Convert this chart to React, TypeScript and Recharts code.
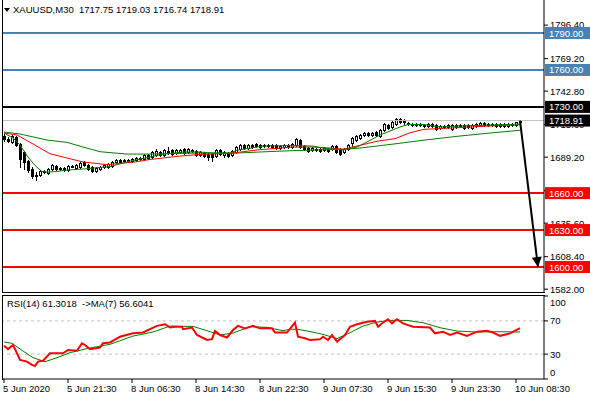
import { ComposedChart, Bar, Line, XAxis, YAxis, ReferenceLine } from 'recharts';

const FONT = '"Liberation Sans", Arial, sans-serif';
const FS = 9.5;

const symbol = 'XAUUSD,M30';

// M30 bars, 5 Jun 13:30 -> 10 Jun 09:00 (bar index 0..129)
const opens = [
  1706.4, 1704.0, 1701.5, 1705.8, 1699.5, 1693.4, 1686.1, 1679.6, 1674.2, 1674.7,
  1677.9, 1676.3, 1679.6, 1682.4, 1679.8, 1680.4, 1678.8, 1682.0, 1680.4, 1681.2,
  1685.3, 1682.8, 1681.2, 1677.9, 1679.6, 1681.2, 1681.2, 1682.0, 1685.3, 1686.9,
  1686.1, 1686.9, 1686.1, 1686.9, 1688.5, 1687.7, 1690.9, 1689.3, 1690.9, 1693.4,
  1690.9, 1694.2, 1695.0, 1692.6, 1693.4, 1695.8, 1693.4, 1695.0, 1694.2, 1690.9,
  1692.6, 1691.7, 1691.7, 1690.1, 1695.0, 1690.9, 1692.6, 1690.9, 1693.4, 1695.8,
  1699.1, 1696.6, 1699.1, 1699.9, 1697.4, 1699.1, 1698.4, 1699.1, 1699.1, 1696.6,
  1697.4, 1699.1, 1697.4, 1699.1, 1703.1, 1698.2, 1696.6, 1695.0, 1695.8, 1695.8,
  1695.0, 1695.8, 1695.8, 1698.2, 1695.8, 1693.4, 1695.8, 1700.7, 1703.1, 1704.7,
  1707.2, 1708.8, 1707.2, 1709.6, 1706.4, 1711.2, 1715.3, 1713.7, 1716.1, 1720.2,
  1719.0, 1717.3, 1716.1, 1715.3, 1716.1, 1715.7, 1714.5, 1716.1, 1715.3, 1712.9,
  1714.5, 1713.7, 1712.0, 1715.3, 1714.5, 1715.3, 1715.3, 1713.2, 1714.5, 1715.3,
  1716.9, 1715.3, 1716.1, 1716.1, 1714.5, 1716.1, 1714.5, 1716.1, 1715.3, 1717.75,
];
const highs = [
  1707.6, 1705.2, 1707.0, 1706.6, 1700.9, 1694.5, 1687.0, 1680.8, 1677.1, 1678.6,
  1678.8, 1680.2, 1683.6, 1683.2, 1681.0, 1681.2, 1682.8, 1682.8, 1683.6, 1685.2,
  1686.1, 1683.6, 1682.0, 1681.2, 1682.0, 1683.6, 1684.4, 1686.1, 1687.7, 1687.7,
  1687.7, 1687.7, 1688.5, 1689.3, 1689.3, 1691.7, 1691.7, 1694.2, 1695.8, 1694.2,
  1695.8, 1697.4, 1695.8, 1695.8, 1695.8, 1696.6, 1696.6, 1695.8, 1695.0, 1694.2,
  1693.4, 1692.6, 1692.6, 1695.8, 1695.8, 1694.2, 1693.4, 1695.0, 1698.2, 1700.0,
  1699.9, 1699.9, 1699.9, 1700.7, 1699.9, 1699.9, 1699.6, 1699.9, 1700.0, 1699.0,
  1699.9, 1699.9, 1700.7, 1704.7, 1703.9, 1699.1, 1697.4, 1697.4, 1696.6, 1696.6,
  1697.4, 1696.6, 1699.1, 1699.1, 1696.6, 1696.6, 1699.9, 1705.6, 1707.2, 1708.0,
  1709.6, 1709.6, 1709.6, 1710.4, 1712.0, 1716.9, 1716.1, 1718.5, 1721.0, 1721.0,
  1719.8, 1718.0, 1716.9, 1717.3, 1716.9, 1716.5, 1716.9, 1716.9, 1716.1, 1715.0,
  1715.3, 1716.1, 1716.1, 1716.1, 1716.1, 1716.1, 1716.1, 1716.1, 1716.9, 1717.7,
  1717.7, 1716.9, 1716.9, 1716.9, 1716.9, 1716.9, 1716.9, 1716.9, 1718.1, 1719.03,
];
const lows = [
  1702.6, 1701.8, 1700.8, 1698.6, 1681.2, 1679.6, 1677.1, 1672.3, 1670.6, 1673.9,
  1676.5, 1675.5, 1678.8, 1678.8, 1679.0, 1678.0, 1678.0, 1681.0, 1679.6, 1680.4,
  1682.0, 1679.0, 1677.1, 1677.1, 1679.0, 1680.4, 1680.4, 1681.2, 1684.4, 1684.4,
  1685.3, 1686.1, 1685.3, 1686.1, 1687.0, 1687.0, 1687.7, 1688.5, 1690.1, 1690.1,
  1690.1, 1691.7, 1691.0, 1691.7, 1692.6, 1691.7, 1692.6, 1693.4, 1690.1, 1690.1,
  1689.3, 1686.9, 1686.1, 1689.3, 1690.9, 1689.3, 1689.3, 1690.1, 1692.6, 1695.0,
  1695.8, 1695.8, 1697.0, 1697.4, 1696.6, 1697.8, 1697.6, 1696.6, 1696.0, 1695.8,
  1696.6, 1696.6, 1696.6, 1698.2, 1696.6, 1695.0, 1693.4, 1694.2, 1694.2, 1693.4,
  1694.2, 1693.4, 1695.0, 1692.6, 1690.9, 1692.6, 1695.0, 1698.2, 1702.3, 1704.0,
  1706.4, 1706.4, 1706.4, 1706.4, 1705.6, 1710.4, 1712.0, 1712.9, 1715.3, 1716.9,
  1716.5, 1715.3, 1714.5, 1714.5, 1714.5, 1713.7, 1713.9, 1713.7, 1711.2, 1712.0,
  1712.9, 1712.9, 1711.2, 1712.9, 1713.7, 1712.0, 1712.9, 1712.0, 1713.7, 1714.5,
  1714.5, 1714.5, 1714.5, 1713.7, 1713.7, 1713.7, 1713.7, 1714.5, 1714.5, 1716.74,
];
const closes = [
  1704.0, 1702.6, 1706.0, 1699.3, 1687.7, 1685.3, 1678.8, 1673.9, 1674.7, 1677.9,
  1677.5, 1679.6, 1682.8, 1679.6, 1680.4, 1678.8, 1682.0, 1681.6, 1682.8, 1684.4,
  1682.8, 1679.6, 1677.9, 1680.4, 1681.2, 1682.8, 1683.6, 1685.3, 1686.9, 1685.3,
  1686.9, 1686.6, 1687.7, 1688.5, 1687.7, 1690.9, 1688.5, 1693.4, 1694.2, 1690.9,
  1695.0, 1693.8, 1691.7, 1695.0, 1695.0, 1692.6, 1695.8, 1694.2, 1690.9, 1693.4,
  1690.1, 1689.3, 1689.3, 1695.0, 1691.7, 1693.4, 1690.1, 1694.2, 1697.4, 1699.1,
  1696.6, 1699.1, 1697.4, 1698.2, 1699.1, 1698.2, 1699.0, 1697.4, 1696.6, 1698.2,
  1699.1, 1697.4, 1699.9, 1703.9, 1697.4, 1695.8, 1694.2, 1696.6, 1695.0, 1694.2,
  1696.6, 1694.2, 1698.2, 1693.4, 1691.7, 1695.8, 1699.1, 1704.7, 1706.4, 1707.2,
  1708.8, 1707.2, 1708.8, 1707.2, 1711.2, 1716.1, 1712.9, 1717.7, 1720.2, 1717.7,
  1717.3, 1716.1, 1715.3, 1716.5, 1715.3, 1714.5, 1716.1, 1714.5, 1712.0, 1714.5,
  1713.7, 1715.3, 1715.3, 1713.7, 1715.3, 1712.9, 1713.7, 1715.3, 1716.1, 1716.9,
  1715.3, 1716.1, 1715.3, 1714.5, 1716.1, 1714.5, 1716.1, 1715.3, 1717.7, 1718.91,
];

// moving averages on price, [bar index, value]
const maSlow: [number, number][] = [
  [0, 1709.6], [4, 1708.0], [10.75, 1703.1], [15.75, 1701.2], [19.75, 1697.4], [24, 1693.6],
  [30.75, 1691.7], [36.5, 1691.7], [49, 1692.6], [56.5, 1692.3], [64, 1693.4], [71.5, 1694.4],
  [84.75, 1695.6], [89, 1696.6], [97.75, 1700.0], [104.75, 1702.9], [113.25, 1706.1],
  [121.5, 1708.8], [129, 1711.0],
];
const maMid: [number, number][] = [
  [0, 1708.8], [3.25, 1707.2], [7.25, 1699.9], [11.5, 1692.0], [15.75, 1688.5], [19.75, 1685.3],
  [25.75, 1683.1], [32.75, 1685.3], [36.5, 1687.3], [44, 1690.1], [49, 1691.4], [56.5, 1692.3],
  [64, 1695.3], [72.25, 1697.4], [77.25, 1697.4], [81.5, 1696.6], [84.75, 1695.6], [89, 1698.8],
  [93.25, 1702.1], [97.75, 1704.2], [101.5, 1709.0], [105, 1711.8], [113.25, 1713.1],
  [121.5, 1714.5], [129, 1715.5],
];
const maFast: [number, number][] = [
  [0, 1708.8], [2.25, 1704.7], [4, 1699.1], [6, 1689.3], [7.75, 1682.4], [9.5, 1677.5],
  [11, 1677.1], [13, 1677.5], [16, 1678.8], [20, 1679.6], [26.5, 1681.6], [31.75, 1686.1],
  [36.5, 1689.3], [40, 1691.7], [45, 1693.4], [49, 1693.4], [52, 1692.6], [56.5, 1692.6],
  [58.25, 1694.8], [64.75, 1698.2], [71.5, 1698.6], [77.25, 1698.2], [79.75, 1696.6],
  [84.75, 1695.0], [88.25, 1697.4], [90.75, 1701.5], [94, 1707.2], [96.5, 1710.4], [99, 1713.7],
  [101, 1715.7], [105, 1715.7], [109, 1713.7], [114, 1714.5], [121.5, 1715.3], [129, 1716.0],
];

// RSI(14) and its MA(7)
const rsiLine: [number, number][] = [
  [0, 40], [1, 36], [2.25, 41], [3.25, 31], [4, 23], [5.75, 21], [7, 17], [7.75, 15.7], [8.5, 21],
  [9.75, 22], [11.5, 31], [14.75, 31], [16, 35], [18.25, 34], [19.5, 43], [20.25, 41], [21.5, 36],
  [24, 38], [24.75, 43], [26.5, 44], [29, 51], [32.25, 55], [34.75, 56], [36.5, 60], [38.25, 64],
  [40.25, 66], [41.5, 62], [42.75, 63], [44.5, 63], [44.75, 60], [47, 62], [48.25, 53], [50.75, 47],
  [52, 48], [52.75, 58], [54, 53], [55.75, 50], [57.25, 59], [58.5, 64], [60.25, 61], [62.25, 64],
  [64, 61], [67, 61], [67.75, 56], [70.75, 56], [72.75, 68], [73.5, 51], [75.25, 49], [76.5, 47],
  [79, 48], [79.75, 51], [81, 47], [82, 53], [83.25, 45], [85.25, 53], [86.5, 63], [88.25, 66],
  [90.75, 69], [92.75, 70], [93.5, 63], [94.75, 68], [96, 72], [97, 67], [98.25, 72], [99.75, 67],
  [102.25, 63], [106.5, 62], [107.75, 55], [109.75, 57], [111.5, 53], [113.25, 56], [115.75, 52],
  [118.25, 57], [120.75, 58], [122.25, 56], [124, 52], [126.5, 55], [129, 61.3],
];
const rsiSignal: [number, number][] = [
  [0, 44.6], [2, 43], [4.75, 33.7], [7.25, 25.7], [10.25, 20.8], [13.25, 25.7], [16.5, 31.7],
  [20.75, 36.6], [26.5, 41.8], [32.25, 51.7], [37.25, 56.6], [41.5, 63.8], [44.5, 63.4],
  [47.25, 63.4], [50.75, 58.2], [54, 53], [57.25, 55.4], [61.5, 63], [65.75, 62.2], [69.75, 58.2],
  [71.5, 60], [73.5, 59.8], [75.75, 57.9], [79.75, 53.8], [83.25, 48.6], [86.5, 55.8],
  [89.75, 63.8], [93.25, 68.6], [96.5, 70.6], [100.75, 70.6], [104.75, 67.8], [109, 61.8],
  [113.25, 57.8], [118.25, 56.6], [123.25, 57], [129, 56.6],
];

const timeTickBars = [0, 16, 32, 48, 64, 80, 96, 112, 128];
const timeLabels = [
  '5 Jun 2020', '5 Jun 21:30', '8 Jun 06:30', '8 Jun 14:30', '8 Jun 22:30',
  '9 Jun 07:30', '9 Jun 15:30', '9 Jun 23:30', '10 Jun 08:30',
];
const priceTicks = [1582, 1608.4, 1635.6, 1662, 1689.2, 1715.6, 1742.8, 1769.2, 1796.4];
const rsiTicks = [0, 30, 70, 100];
const rsiLevels = [70, 30];

const upperTargets = [1790, 1760];
const pivotLevel = 1730;
const supportLevels = [1660, 1630, 1600];
const lastPrice = 1718.91;
const arrowEnd: [number, number] = [133.5, 1600];
const rsiNow = 61.3018;
const rsiMaNow = 56.6041;

const X_DOMAIN: [number, number] = [-0.5, 135];
const PRICE_DOMAIN: [number, number] = [1578.9, 1816.8];
const MAIN_MARGIN = { top: 0, right: 0, bottom: 7, left: 2 };

const candles = opens.map((o, i) => ({
  i,
  o,
  h: highs[i],
  l: lows[i],
  c: closes[i],
  range: [lows[i], highs[i]],
}));
const pts = (arr: [number, number][]) => arr.map(([i, v]) => ({ i, v }));
const arrowData = [
  { i: candles.length - 1, v: closes[closes.length - 1] },
  { i: arrowEnd[0], v: arrowEnd[1] },
];

function Candle(props: any) {
  const { x, y, width, height, payload } = props;
  if (!payload) return null;
  const { o, h, l, c } = payload;
  const top = Math.min(y, y + height);
  const span = Math.abs(height);
  const k = h === l ? 0 : span / (h - l);
  const yo = top + (h - o) * k;
  const yc = top + (h - c) * k;
  const cx = Math.round(x + width / 2) + 0.5;
  const bTop = Math.round(Math.min(yo, yc)) + 0.5;
  const bH = Math.max(Math.round(Math.abs(yo - yc)), 1);
  const up = c >= o;
  return (
    <g shapeRendering="crispEdges">
      <line x1={cx} x2={cx} y1={Math.round(top)} y2={Math.round(top + span) + 1} stroke="#000" />
      <rect x={cx - 1} y={bTop} width={2} height={bH} fill={up ? '#fff' : '#000'} stroke="#000" />
    </g>
  );
}

// coloured price box sitting on the right price scale
const tag = (value: number, fill: string) => (p: any) => {
  const vb = p.viewBox || {};
  const right = vb.x + vb.width;
  return (
    <g>
      <rect x={right + 1} y={vb.y - 6} width={46} height={12} fill={fill} />
      <text x={right + 5} y={vb.y + 3.5} fill="#fff" fontSize={FS} fontFamily={FONT}>
        {value.toFixed(2)}
      </text>
    </g>
  );
};

function TimeTick(props: any) {
  const { x, y, payload } = props;
  const label = timeLabels[timeTickBars.indexOf(payload.value)];
  return (
    <text x={x - 1} y={y + 7} fill="#000" fontSize={FS} fontFamily={FONT} textAnchor="start">
      {label}
    </text>
  );
}

function RsiTick(props: any) {
  const { x, y, payload } = props;
  const shift = payload.value === 100 ? 6 : payload.value === 0 ? -7 : 0;
  return (
    <text x={x} y={y + 3.5 + shift} fill="#000" fontSize={FS} fontFamily={FONT} textAnchor="start">
      {payload.value}
    </text>
  );
}

const lineProps = { dataKey: 'v', dot: false, activeDot: false, isAnimationActive: false } as const;

export default function App() {
  return (
    <div style={{ position: 'absolute', left: 0, top: 0, width: 590, height: 400, background: '#fff' }}>
      <div style={{ position: 'absolute', left: 0, top: 0 }}>
        <ComposedChart width={590} height={300} data={candles} margin={MAIN_MARGIN}>
          <defs>
            <marker
              id="arrowHead"
              viewBox="0 0 10 10"
              refX="10"
              refY="5"
              markerWidth="11"
              markerHeight="10"
              markerUnits="userSpaceOnUse"
              orient="auto"
            >
              <path d="M0,0 L10,5 L0,10 z" fill="#000" />
            </marker>
          </defs>
          <XAxis dataKey="i" type="number" domain={X_DOMAIN} allowDataOverflow hide />
          <YAxis
            orientation="right"
            width={46}
            domain={PRICE_DOMAIN}
            allowDataOverflow
            ticks={priceTicks}
            interval={0}
            tickFormatter={(v: number) => v.toFixed(2)}
            tick={{ fill: '#000', fontSize: FS, fontFamily: FONT }}
            tickSize={4}
            axisLine={{ stroke: '#000' }}
            tickLine={{ stroke: '#000' }}
          />
          <ReferenceLine y={lastPrice} stroke="#c0c0c0" strokeWidth={1} />
          {upperTargets.map((v) => (
            <ReferenceLine key={v} y={v} stroke="#4682b4" strokeWidth={2} />
          ))}
          <ReferenceLine y={pivotLevel} stroke="#000" strokeWidth={2} />
          {supportLevels.map((v) => (
            <ReferenceLine key={v} y={v} stroke="#ff0000" strokeWidth={2} />
          ))}
          <Bar dataKey="range" barSize={3} shape={<Candle />} isAnimationActive={false} />
          <Line {...lineProps} data={pts(maSlow)} stroke="#008000" strokeWidth={1} />
          <Line {...lineProps} data={pts(maMid)} stroke="#ff0000" strokeWidth={1} />
          <Line {...lineProps} data={pts(maFast)} stroke="#008000" strokeWidth={1} />
          <Line
            {...lineProps}
            data={arrowData}
            stroke="#000"
            strokeWidth={2}
            markerEnd="url(#arrowHead)"
          />
        </ComposedChart>
      </div>

      {/* price tags drawn over the price scale, same scales as the main pane */}
      <div style={{ position: 'absolute', left: 0, top: 0 }}>
        <ComposedChart width={590} height={300} data={candles} margin={MAIN_MARGIN}>
          <XAxis dataKey="i" type="number" domain={X_DOMAIN} allowDataOverflow hide />
          <YAxis
            orientation="right"
            width={46}
            domain={PRICE_DOMAIN}
            allowDataOverflow
            tick={false}
            axisLine={false}
            tickLine={false}
          />
          <Line dataKey="c" stroke="transparent" dot={false} activeDot={false} isAnimationActive={false} />
          <ReferenceLine y={lastPrice} stroke="transparent" label={tag(lastPrice, '#000')} />
          {upperTargets.map((v) => (
            <ReferenceLine key={v} y={v} stroke="transparent" label={tag(v, '#4682b4')} />
          ))}
          <ReferenceLine y={pivotLevel} stroke="transparent" label={tag(pivotLevel, '#000')} />
          {supportLevels.map((v) => (
            <ReferenceLine key={v} y={v} stroke="transparent" label={tag(v, '#ff0000')} />
          ))}
        </ComposedChart>
      </div>

      <div style={{ position: 'absolute', left: 0, top: 293 }}>
        <ComposedChart width={590} height={107} margin={{ top: 3, right: 0, bottom: 0, left: 2 }}>
          <XAxis
            dataKey="i"
            type="number"
            domain={X_DOMAIN}
            allowDataOverflow
            ticks={timeTickBars}
            interval={0}
            height={21}
            tickSize={4}
            axisLine={{ stroke: '#000' }}
            tickLine={{ stroke: '#000' }}
            tick={<TimeTick />}
          />
          <YAxis
            orientation="right"
            width={46}
            domain={[0, 100]}
            allowDataOverflow
            ticks={rsiTicks}
            interval={0}
            tickSize={4}
            axisLine={{ stroke: '#000' }}
            tickLine={{ stroke: '#000' }}
            tick={<RsiTick />}
          />
          {rsiLevels.map((v) => (
            <ReferenceLine key={v} y={v} stroke="#c0c0c0" strokeDasharray="3 3" />
          ))}
          <Line {...lineProps} data={pts(rsiSignal)} stroke="#008000" strokeWidth={1} />
          <Line {...lineProps} data={pts(rsiLine)} stroke="#ff0000" strokeWidth={2} />
        </ComposedChart>
      </div>

      {/* pane frames */}
      <div style={{ position: 'absolute', left: 2, top: 0, width: 1, height: 293, background: '#000' }} />
      <div style={{ position: 'absolute', left: 2, top: 292, width: 543, height: 1, background: '#000' }} />
      <div style={{ position: 'absolute', left: 2, top: 295, width: 543, height: 1, background: '#000' }} />
      <div style={{ position: 'absolute', left: 2, top: 295, width: 1, height: 85, background: '#000' }} />

      <div
        style={{
          position: 'absolute',
          left: 4,
          top: 4,
          fontFamily: FONT,
          fontSize: FS,
          lineHeight: '12px',
          color: '#000',
          whiteSpace: 'pre',
          display: 'flex',
          alignItems: 'center',
        }}
      >
        <svg width={7} height={8} style={{ marginRight: 2 }}>
          <polygon points="0,2 6,2 3,6" fill="#000" />
        </svg>
        {`${symbol}  ${opens[opens.length - 1].toFixed(2)} ${highs[highs.length - 1].toFixed(2)} ${lows[lows.length - 1].toFixed(2)} ${closes[closes.length - 1].toFixed(2)}`}
      </div>
      <div
        style={{
          position: 'absolute',
          left: 7,
          top: 298,
          fontFamily: FONT,
          fontSize: FS,
          lineHeight: '12px',
          color: '#000',
          whiteSpace: 'pre',
        }}
      >
        {`RSI(14) ${rsiNow.toFixed(4)}  ->MA(7) ${rsiMaNow.toFixed(4)}`}
      </div>
    </div>
  );
}
